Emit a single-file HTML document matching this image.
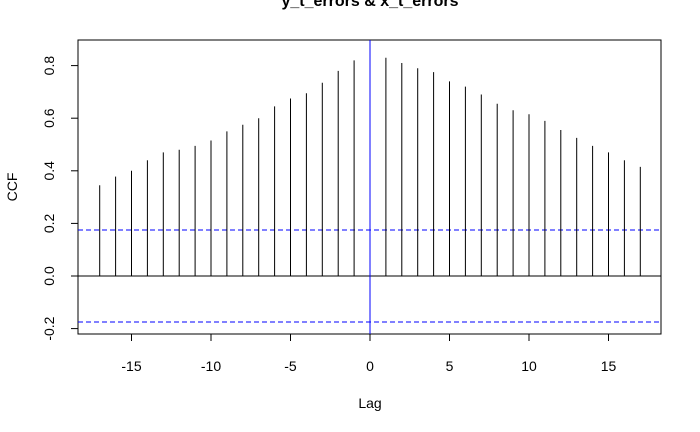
<!DOCTYPE html>
<html><head><meta charset="utf-8"><style>
body{margin:0;background:#fff}
svg{display:block;font-family:"Liberation Sans",Arial,sans-serif}
</style></head><body>
<svg width="700" height="432" viewBox="0 0 700 432" id="c">
<rect width="700" height="432" fill="#fff"/>
<text x="370" y="6" font-size="16" font-weight="bold" text-anchor="middle">y_t_errors &amp; x_t_errors</text>
<rect x="78" y="40" width="583" height="294" fill="none" stroke="#000" stroke-width="1"/>
<text x="370" y="408" font-size="14" text-anchor="middle">Lag</text>
<text transform="translate(17,187) rotate(-90)" font-size="14" text-anchor="middle">CCF</text>
<g id="marks"></g>
</svg>
<script>
const lags=[-17,-16,-15,-14,-13,-12,-11,-10,-9,-8,-7,-6,-5,-4,-3,-2,-1,1,2,3,4,5,6,7,8,9,10,11,12,13,14,15,16,17];
const ccfValues=[0.345,0.378,0.40,0.44,0.47,0.48,0.495,0.515,0.55,0.575,0.60,0.645,0.675,0.695,0.735,0.78,0.82,0.83,0.81,0.79,0.775,0.74,0.72,0.69,0.655,0.63,0.615,0.59,0.555,0.525,0.495,0.47,0.44,0.415];
const xTicks=[-15,-10,-5,0,5,10,15];
const yTicks=[-0.2,0,0.2,0.4,0.6,0.8];
const yTickLabels=["-0.2","0.0","0.2","0.4","0.6","0.8"];
const confLimit=0.175;
const NS="http://www.w3.org/2000/svg";
const X=v=>370+v*15.9;
const Y=v=>276-v*263;
const g=document.getElementById('marks');
function mk(t,a){const e=document.createElementNS(NS,t);for(const k in a)e.setAttribute(k,a[k]);g.appendChild(e);return e;}
let e;
e=mk('line',{x1:78,x2:661,y1:Y(0),y2:Y(0),stroke:'#000'});


[confLimit,-confLimit].forEach((c,i)=>{
 const l=mk('line',{x1:78,x2:661,y1:Y(c),y2:Y(c),stroke:'#0000ff','stroke-dasharray':'5,3'});
 
 
});
lags.forEach((lg,i)=>{
 const b=mk('line',{x1:X(lg),x2:X(lg),y1:Y(0),y2:Y(ccfValues[i]),stroke:'#000'});
 
 
});
e=mk('line',{x1:X(0),x2:X(0),y1:40,y2:334,stroke:'#0000ff'});


xTicks.forEach(t=>{
 const tk=mk('line',{x1:X(t),x2:X(t),y1:334,y2:341,stroke:'#000'});
 
 
 const tx=mk('text',{x:X(t),y:371,'font-size':14,'text-anchor':'middle'});
 tx.textContent=t;
 
 
});
yTicks.forEach((t,i)=>{
 const tk=mk('line',{x1:71,x2:78,y1:Y(t),y2:Y(t),stroke:'#000'});
 
 
 const tx=mk('text',{transform:`translate(54,${Y(t)}) rotate(-90)`,'font-size':14,'text-anchor':'middle'});
 tx.textContent=yTickLabels[i];
 
 
});
</script>
</body></html>
